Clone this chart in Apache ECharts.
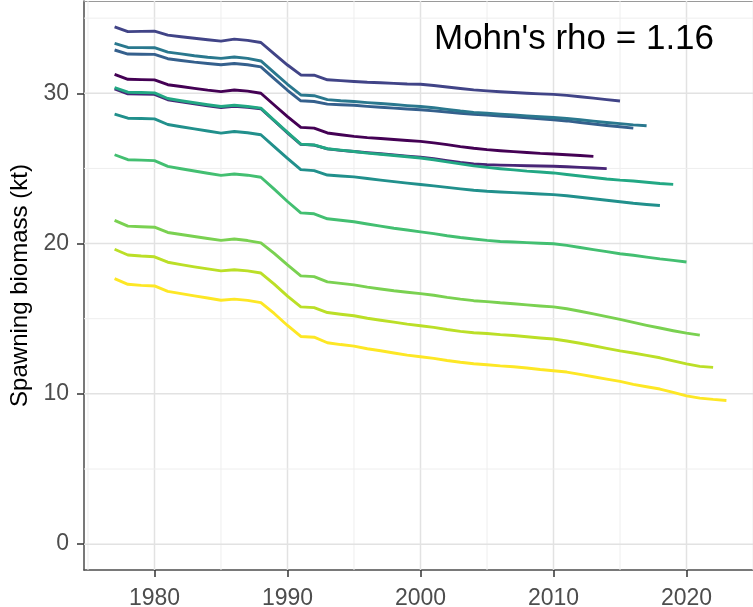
<!DOCTYPE html>
<html>
<head>
<meta charset="utf-8">
<script src="https://cdn.jsdelivr.net/npm/echarts@6/dist/echarts.min.js"></script>
<style>
  html, body { margin: 0; padding: 0; background: #ffffff; }
  #chart { width: 753px; height: 607px; }
</style>
</head>
<body>
<div id="chart"></div>
<script>
// Retrospective spawning biomass (kt), one run per terminal year, each starting in 1977
const startYear = 1977;
const peelEndYears = [2013, 2014, 2015, 2016, 2017, 2018, 2019, 2020, 2021, 2022, 2023];

const ssb2013 = [31.26, 30.93, 30.91, 30.89, 30.57, 30.45, 30.33, 30.21, 30.11, 30.22, 30.14, 30.00, 29.22, 28.45, 27.73, 27.68, 27.36, 27.24, 27.13, 27.05, 26.99, 26.92, 26.86, 26.80, 26.70, 26.58, 26.45, 26.34, 26.25, 26.18, 26.12, 26.06, 26.00, 25.96, 25.91, 25.86, 25.80];
const ssb2014 = [30.29, 29.96, 29.95, 29.93, 29.57, 29.43, 29.30, 29.17, 29.05, 29.14, 29.07, 28.97, 28.17, 27.37, 26.60, 26.55, 26.30, 26.20, 26.13, 26.05, 25.98, 25.90, 25.82, 25.74, 25.64, 25.52, 25.40, 25.30, 25.25, 25.22, 25.20, 25.18, 25.16, 25.14, 25.11, 25.07, 25.03, 24.99];
const ssb2015 = [34.42, 34.10, 34.12, 34.13, 33.87, 33.76, 33.66, 33.56, 33.47, 33.60, 33.52, 33.38, 32.62, 31.88, 31.22, 31.20, 30.90, 30.84, 30.78, 30.73, 30.70, 30.66, 30.62, 30.60, 30.52, 30.42, 30.32, 30.23, 30.16, 30.10, 30.05, 30.00, 29.96, 29.93, 29.86, 29.77, 29.68, 29.58, 29.49];
const ssb2016 = [32.88, 32.61, 32.60, 32.59, 32.30, 32.18, 32.07, 31.98, 31.90, 31.98, 31.90, 31.76, 30.98, 30.20, 29.50, 29.45, 29.28, 29.24, 29.20, 29.13, 29.07, 29.01, 28.95, 28.90, 28.83, 28.75, 28.67, 28.60, 28.55, 28.49, 28.43, 28.37, 28.30, 28.24, 28.16, 28.06, 27.96, 27.86, 27.77, 27.68];
const ssb2017 = [33.32, 33.05, 33.04, 33.03, 32.74, 32.62, 32.50, 32.40, 32.32, 32.41, 32.32, 32.15, 31.38, 30.60, 29.89, 29.84, 29.58, 29.50, 29.45, 29.38, 29.32, 29.25, 29.18, 29.12, 29.04, 28.93, 28.82, 28.73, 28.67, 28.61, 28.56, 28.50, 28.44, 28.39, 28.32, 28.24, 28.15, 28.06, 27.98, 27.90, 27.84];
const ssb2018 = [28.61, 28.34, 28.32, 28.30, 27.92, 27.77, 27.63, 27.49, 27.35, 27.46, 27.37, 27.24, 26.45, 25.67, 24.92, 24.85, 24.56, 24.50, 24.44, 24.33, 24.22, 24.12, 24.02, 23.93, 23.84, 23.74, 23.64, 23.55, 23.48, 23.43, 23.39, 23.35, 23.30, 23.26, 23.18, 23.08, 22.98, 22.88, 22.78, 22.68, 22.60, 22.53];
const ssb2019 = [30.38, 30.07, 30.05, 30.03, 29.65, 29.50, 29.37, 29.24, 29.12, 29.20, 29.12, 29.01, 28.20, 27.40, 26.62, 26.56, 26.31, 26.22, 26.13, 26.02, 25.94, 25.86, 25.78, 25.69, 25.58, 25.44, 25.30, 25.17, 25.07, 24.98, 24.90, 24.82, 24.76, 24.70, 24.60, 24.50, 24.40, 24.30, 24.22, 24.16, 24.08, 24.00, 23.94];
const ssb2020 = [25.91, 25.58, 25.55, 25.52, 25.14, 24.98, 24.83, 24.68, 24.54, 24.63, 24.55, 24.41, 23.62, 22.80, 22.04, 21.98, 21.65, 21.55, 21.45, 21.30, 21.16, 21.02, 20.90, 20.78, 20.66, 20.52, 20.40, 20.30, 20.21, 20.14, 20.10, 20.06, 20.02, 19.99, 19.88, 19.74, 19.60, 19.46, 19.32, 19.22, 19.10, 18.98, 18.88, 18.77];
const ssb2021 = [21.54, 21.16, 21.12, 21.09, 20.74, 20.60, 20.47, 20.34, 20.21, 20.30, 20.20, 20.05, 19.35, 18.58, 17.85, 17.80, 17.45, 17.35, 17.25, 17.10, 16.98, 16.86, 16.76, 16.67, 16.56, 16.42, 16.30, 16.20, 16.14, 16.06, 16.00, 15.92, 15.85, 15.79, 15.66, 15.50, 15.32, 15.14, 14.96, 14.76, 14.56, 14.38, 14.20, 14.04, 13.91];
const ssb2022 = [19.62, 19.24, 19.17, 19.12, 18.76, 18.60, 18.45, 18.32, 18.18, 18.26, 18.18, 18.04, 17.30, 16.50, 15.79, 15.74, 15.41, 15.30, 15.20, 15.03, 14.90, 14.77, 14.64, 14.53, 14.42, 14.28, 14.16, 14.07, 14.02, 13.94, 13.88, 13.80, 13.72, 13.65, 13.52, 13.37, 13.20, 13.03, 12.86, 12.72, 12.56, 12.40, 12.20, 12.00, 11.83, 11.76];
const ssb2023 = [17.67, 17.29, 17.22, 17.18, 16.82, 16.67, 16.52, 16.38, 16.23, 16.30, 16.22, 16.07, 15.35, 14.55, 13.82, 13.77, 13.40, 13.28, 13.18, 13.00, 12.87, 12.72, 12.58, 12.47, 12.36, 12.22, 12.10, 12.00, 11.94, 11.86, 11.80, 11.72, 11.62, 11.54, 11.45, 11.30, 11.14, 10.98, 10.83, 10.63, 10.47, 10.32, 10.10, 9.87, 9.72, 9.63, 9.56];

const peelSeries = [ssb2013, ssb2014, ssb2015, ssb2016, ssb2017, ssb2018, ssb2019, ssb2020, ssb2021, ssb2022, ssb2023];

// viridis palette, 11 steps
const peelColors = ['#440154', '#482576', '#414487', '#35608D', '#2A788E', '#21908C', '#22A884', '#43BF71', '#7AD151', '#BBDF27', '#FDE725'];

const yearTicks = [1980, 1990, 2000, 2010, 2020];
const yearMinorTicks = [1975, 1985, 1995, 2005, 2015, 2025];
const ssbTicks = [0, 10, 20, 30];
const ssbMinorTicks = [5, 15, 25, 35];

const yearRange = [1974.7, 2025.3];
const ssbRange = [-1.72, 36.14];

const yTitle = 'Spawning biomass (kt)';
const rhoLabel = "Mohn's rho = 1.16";

const FONT = '"Liberation Sans", Arial, Helvetica, sans-serif';

const MAJOR_GRID = { stroke: '#e2e2e2', lineWidth: 1.5 };
const MINOR_GRID = { stroke: '#eeeeee', lineWidth: 1 };

// panel grid lines: [value, isMajor]
const vGridData = yearMinorTicks.map(v => [v, 0]).concat(yearTicks.map(v => [v, 1]));
const hGridData = ssbMinorTicks.map(v => [v, 0]).concat(ssbTicks.map(v => [v, 1]));

function vGridItem(params, api) {
  const v = api.value(0);
  const p1 = api.coord([v, ssbRange[0]]);
  const p2 = api.coord([v, ssbRange[1]]);
  const st = api.value(1) ? MAJOR_GRID : MINOR_GRID;
  return { type: 'line', shape: { x1: p1[0], y1: p1[1], x2: p2[0], y2: p2[1] }, style: Object.assign({}, st), silent: true };
}
function hGridItem(params, api) {
  const v = api.value(0);
  const p1 = api.coord([yearRange[0], v]);
  const p2 = api.coord([yearRange[1], v]);
  const st = api.value(1) ? MAJOR_GRID : MINOR_GRID;
  return { type: 'line', shape: { x1: p1[0], y1: p1[1], x2: p2[0], y2: p2[1] }, style: Object.assign({}, st), silent: true };
}

const series = [
  {
    type: 'custom', name: 'vgrid', z: 1, silent: true, animation: false,
    encode: { x: 0 }, data: vGridData, renderItem: vGridItem, clip: true
  },
  {
    type: 'custom', name: 'hgrid', z: 1, silent: true, animation: false,
    encode: { y: 0 }, data: hGridData, renderItem: hGridItem, clip: true
  }
];

peelSeries.forEach((vals, k) => {
  series.push({
    type: 'line',
    name: String(peelEndYears[k]),
    data: vals.map((v, i) => [startYear + i, v]),
    showSymbol: false,
    symbol: 'none',
    z: 3,
    lineStyle: { color: peelColors[k], width: 2.9, cap: 'butt', join: 'round' },
    itemStyle: { color: peelColors[k] },
    emphasis: { disabled: true },
    animation: false
  });
});

const chart = echarts.init(document.getElementById('chart'), null, { renderer: 'canvas' });
chart.setOption({
  animation: false,
  backgroundColor: '#ffffff',
  grid: { left: 84, right: -4, top: 1, bottom: 37, containLabel: false, outerBoundsMode: 'none' },
  xAxis: [{
    type: 'value',
    min: yearRange[0],
    max: yearRange[1],
    axisLine: { show: true, onZero: false, lineStyle: { color: '#4d4d4d', width: 1.5 } },
    axisTick: { show: true, customValues: yearTicks, length: 7, lineStyle: { color: '#333333', width: 1.5 } },
    axisLabel: { customValues: yearTicks, formatter: v => String(v), fontSize: 23, color: '#4d4d4d', fontFamily: FONT, margin: 17 },
    splitLine: { show: false },
    minorSplitLine: { show: false }
  }, {
    type: 'value',
    position: 'top',
    min: yearRange[0],
    max: yearRange[1],
    axisLine: { show: true, onZero: false, lineStyle: { color: '#9a9a9a', width: 1.2 } },
    axisTick: { show: false },
    axisLabel: { show: false },
    splitLine: { show: false }
  }],
  yAxis: {
    type: 'value',
    min: ssbRange[0],
    max: ssbRange[1],
    name: yTitle,
    nameLocation: 'middle',
    nameRotate: 90,
    nameGap: 48,
    nameTextStyle: { fontSize: 24, color: '#000000', fontFamily: FONT },
    axisLine: { show: true, onZero: false, lineStyle: { color: '#4d4d4d', width: 1.5 } },
    axisTick: { show: true, customValues: ssbTicks, length: 7, lineStyle: { color: '#333333', width: 1.5 } },
    axisLabel: { customValues: ssbTicks, formatter: v => String(v), fontSize: 23, color: '#4d4d4d', fontFamily: FONT, margin: 15 },
    splitLine: { show: false },
    minorSplitLine: { show: false }
  },
  graphic: [{
    type: 'text',
    left: 434,
    top: 22,
    z: 100,
    silent: true,
    style: { text: rhoLabel, fontSize: 35, fill: '#000000', fontFamily: FONT }
  }],
  series: series
});
</script>
</body>
</html>
